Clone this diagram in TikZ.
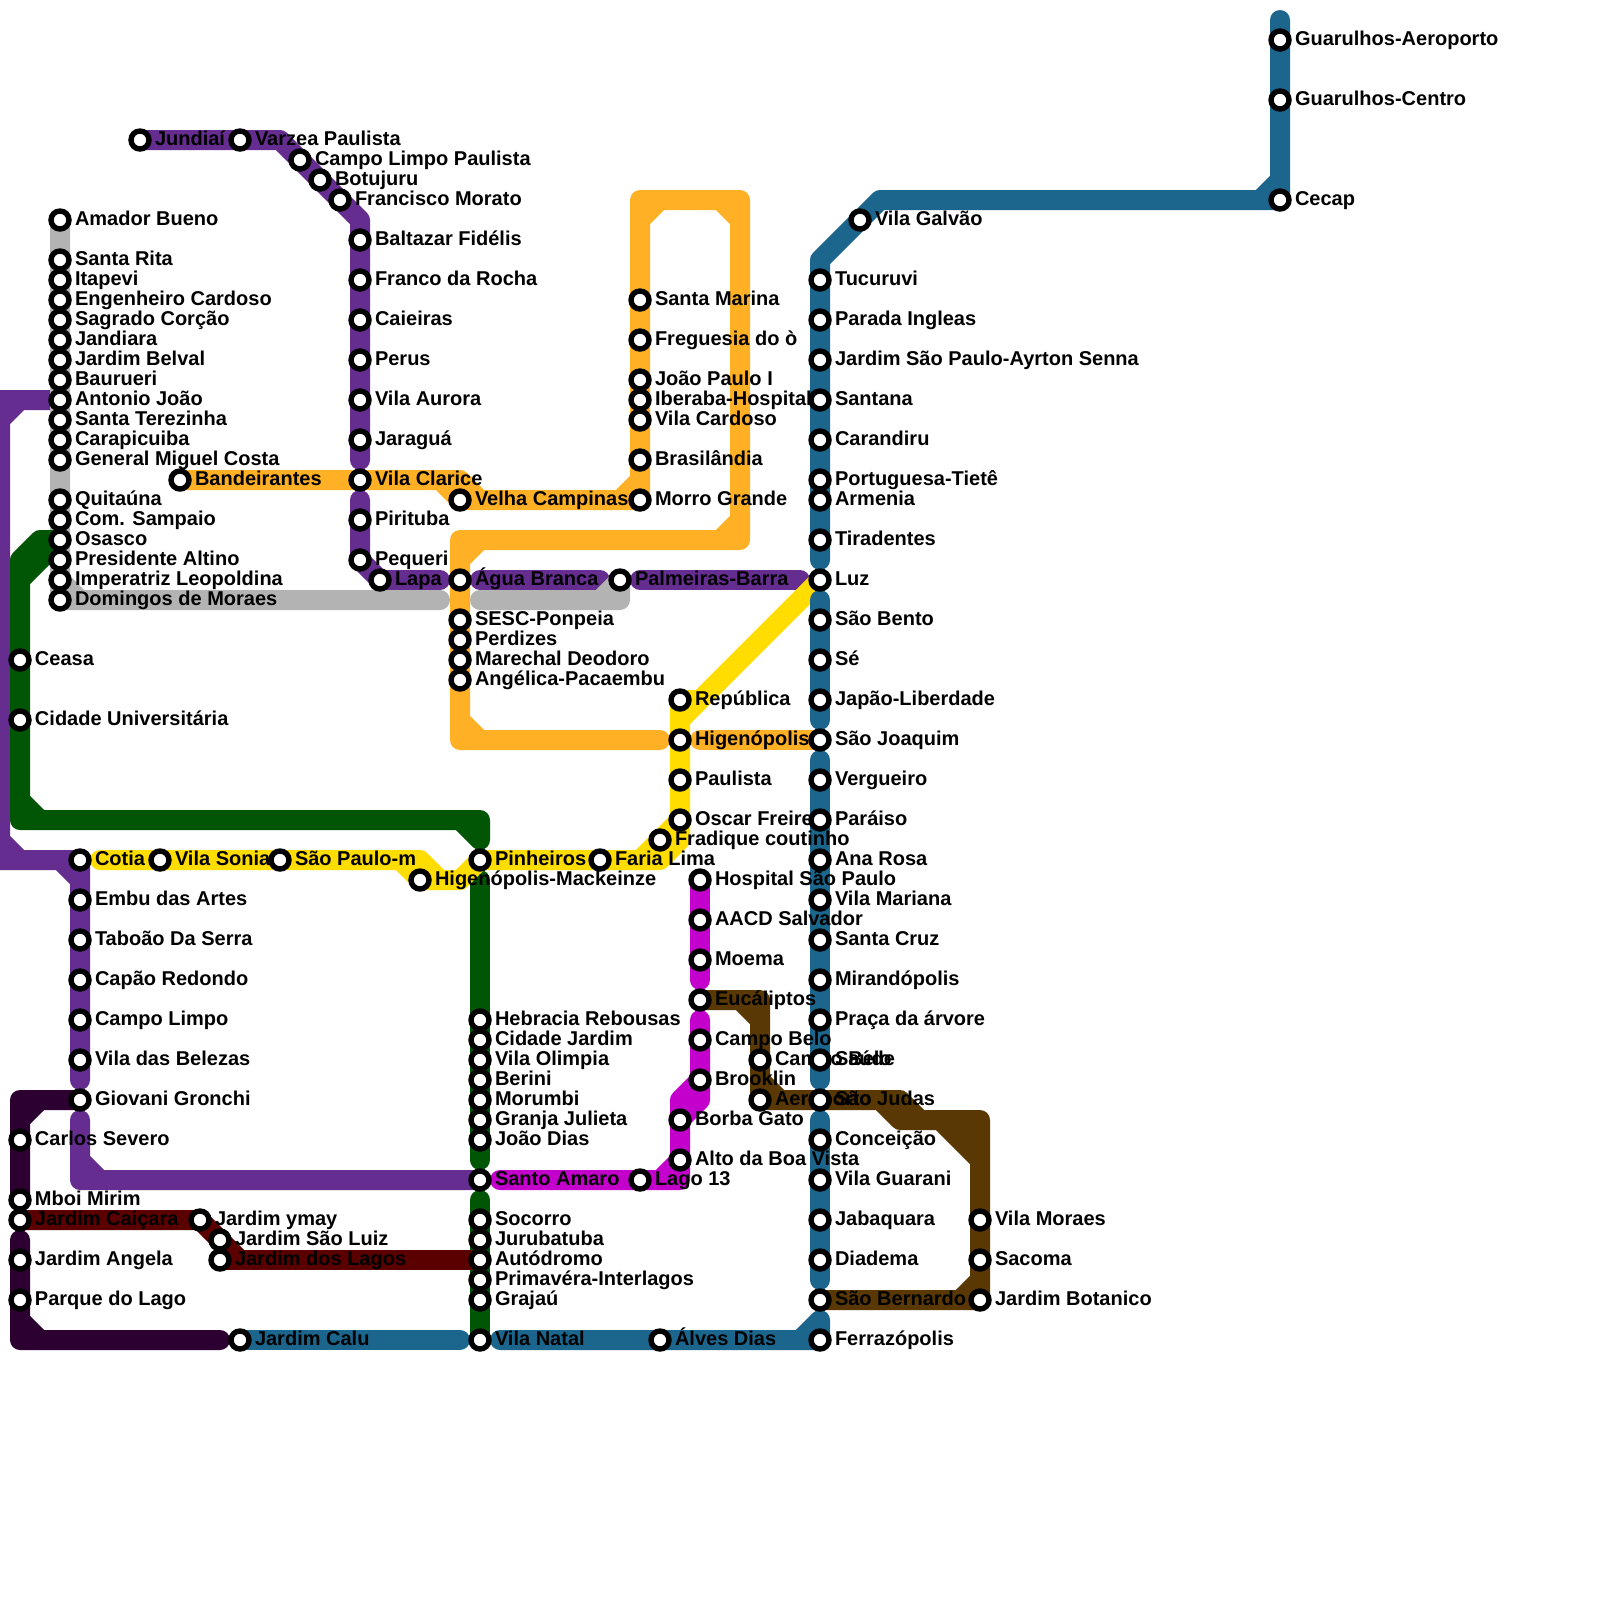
\documentclass[tikz,border=0pt]{standalone}
\usepackage{fontspec}
\setmainfont{Liberation Sans}
\usepackage{xcolor}
\definecolor{lpurple}{HTML}{662D91}
\definecolor{lgray}{HTML}{B3B3B3}
\definecolor{lorange}{HTML}{FFB025}
\definecolor{lblue}{HTML}{1C668D}
\definecolor{lgreen}{HTML}{015605}
\definecolor{lyellow}{HTML}{FFDD00}
\definecolor{lmagenta}{HTML}{C400CC}
\definecolor{lbrown}{HTML}{5A3804}
\definecolor{ldark}{HTML}{2D0032}
\definecolor{lred}{HTML}{5A0000}
\pgfdeclarelayer{lines}
\pgfdeclarelayer{labels}
\pgfsetlayers{lines,labels,main}
\tikzset{
    metro/.style={line width=0.5cm,line cap=round,line join=round},
    station/.style={circle,draw=black,fill=white,line width=0.135cm,minimum size=0.45cm,inner sep=0pt,outer sep=0pt},
    stnlabel/.style={anchor=base west,inner sep=0pt,outer sep=0pt,text=black,font=\fontsize{14.23}{14.23}\selectfont\bfseries}
}

\begin{document}
\begin{tikzpicture}[x=0.5cm,y=-0.5cm]
    \useasboundingbox (0,0) rectangle (80,80);
    % stations and their names
    \foreach \nm/\x/\y/\txt in {
        amador/3/11/Amador Bueno, srita/3/13/Santa Rita, itapevi/3/14/Itapevi,
        engenheiro/3/15/Engenheiro Cardoso, sagrado/3/16/Sagrado Corção, jandiara/3/17/Jandiara,
        belval/3/18/Jardim Belval, baurueri/3/19/Baurueri, antonio/3/20/Antonio João,
        terezinha/3/21/Santa Terezinha, carapicuiba/3/22/Carapicuiba, general/3/23/General Miguel Costa,
        quitauna/3/25/Quitaúna, sampaio/3/26/Com. Sampaio, osasco/3/27/Osasco,
        altino/3/28/Presidente Altino, imperatriz/3/29/Imperatriz Leopoldina, domingos/3/30/Domingos de Moraes,
        ceasa/1/33/Ceasa, cidadeuni/1/36/Cidade Universitária,
        jundiai/7/7/Jundiaí, varzea/12/7/Varzea Paulista, campolimpop/15/8/Campo Limpo Paulista,
        botujuru/16/9/Botujuru, morato/17/10/Francisco Morato, baltazar/18/12/Baltazar Fidélis,
        franco/18/14/Franco da Rocha, caieiras/18/16/Caieiras, perus/18/18/Perus,
        aurora/18/20/Vila Aurora, jaragua/18/22/Jaraguá, clarice/18/24/Vila Clarice,
        pirituba/18/26/Pirituba, pequeri/18/28/Pequeri, lapa/19/29/Lapa,
        agua/23/29/Água Branca, palmeiras/31/29/Palmeiras-Barra,
        bandeirantes/9/24/Bandeirantes, velha/23/25/Velha Campinas, morro/32/25/Morro Grande,
        brasilandia/32/23/Brasilândia, cardoso/32/21/Vila Cardoso, iberaba/32/20/Iberaba-Hospital,
        joaopaulo/32/19/João Paulo I, freguesia/32/17/Freguesia do ò, marina/32/15/Santa Marina,
        sesc/23/31/SESC-Ponpeia, perdizes/23/32/Perdizes, marechal/23/33/Marechal Deodoro,
        angelica/23/34/Angélica-Pacaembu,
        aeroporto/64/2/Guarulhos-Aeroporto, gcentro/64/5/Guarulhos-Centro, cecap/64/10/Cecap,
        galvao/43/11/Vila Galvão, tucuruvi/41/14/Tucuruvi, parada/41/16/Parada Ingleas,
        ayrton/41/18/Jardim São Paulo-Ayrton Senna, santana/41/20/Santana, carandiru/41/22/Carandiru,
        portuguesa/41/24/Portuguesa-Tietê, armenia/41/25/Armenia, tiradentes/41/27/Tiradentes,
        luz/41/29/Luz, saobento/41/31/São Bento, se/41/33/Sé, japao/41/35/Japão-Liberdade,
        joaquim/41/37/São Joaquim, vergueiro/41/39/Vergueiro, paraiso/41/41/Paráiso,
        anarosa/41/43/Ana Rosa, mariana/41/45/Vila Mariana, santacruz/41/47/Santa Cruz,
        mirandopolis/41/49/Mirandópolis, praca/41/51/Praça da árvore, saude/41/53/Saúde,
        judas/41/55/São Judas, conceicao/41/57/Conceição, guarani/41/59/Vila Guarani,
        jabaquara/41/61/Jabaquara, diadema/41/63/Diadema, bernardo/41/65/São Bernardo,
        ferrazopolis/41/67/Ferrazópolis, alves/33/67/Álves Dias, natal/24/67/Vila Natal,
        calu/12/67/Jardim Calu,
        republica/34/35/República, higienopolis/34/37/Higenópolis, paulista/34/39/Paulista,
        oscar/34/41/Oscar Freire, fradique/33/42/Fradique coutinho, faria/30/43/Faria Lima,
        pinheiros/24/43/Pinheiros, mackenzie/21/44/Higenópolis-Mackeinze, saopaulom/14/43/São Paulo-m,
        sonia/8/43/Vila Sonia, cotia/4/43/Cotia,
        embu/4/45/Embu das Artes, taboao/4/47/Taboão Da Serra, capao/4/49/Capão Redondo,
        campolimpo/4/51/Campo Limpo, belezas/4/53/Vila das Belezas, gronchi/4/55/Giovani Gronchi,
        hebracia/24/51/Hebracia Rebousas, cidadej/24/52/Cidade Jardim, olimpia/24/53/Vila Olimpia,
        berini/24/54/Berini, morumbi/24/55/Morumbi, granja/24/56/Granja Julieta,
        joaodias/24/57/João Dias, amaro/24/59/Santo Amaro, socorro/24/61/Socorro,
        jurubatuba/24/62/Jurubatuba, autodromo/24/63/Autódromo, primavera/24/64/Primavéra-Interlagos,
        grajau/24/65/Grajaú,
        hospital/35/44/Hospital São Paulo, aacd/35/46/AACD Salvador, moema/35/48/Moema,
        eucaliptos/35/50/Eucáliptos, campobelo/35/52/Campo Belo, brooklin/35/54/Brooklin,
        borba/34/56/Borba Gato, boavista/34/58/Alto da Boa Vista, lago/32/59/Lago 13,
        campobelob/38/53/Campo Belo, aero/38/55/Aeroporto,
        moraes/49/61/Vila Moraes, sacoma/49/63/Sacoma, botanico/49/65/Jardim Botanico,
        severo/1/57/Carlos Severo, mboi/1/60/Mboi Mirim, caicara/1/61/Jardim Caiçara,
        angela/1/63/Jardim Angela, parque/1/65/Parque do Lago,
        ymay/10/61/Jardim ymay, luiz/11/62/Jardim São Luiz, lagos/11/63/Jardim dos Lagos}
    {
        \node[station] (\nm) at (\x,\y) {};
        \begin{pgfonlayer}{labels}
            \node[stnlabel] (\nm txt) at (\x+0.75,\y+0.25) {\txt};
        \end{pgfonlayer}
    }
    \begin{pgfonlayer}{lines}
        % purple
        \draw[metro,lpurple] (antonio.center) -- (0,20) -- (0,43) -- (cotia.center) -- (4,54)
            (0,21) -- (1,20) (0,42) -- (1,43) (3,43) -- (4,44);
        \draw[metro,lpurple] (4,56) -- (4,59) -- (amaro.center) (4,58) -- (5,59);
        \draw[metro,lpurple] (jundiai.center) -- (14,7) -- (18,11) -- (18,23);
        \draw[metro,lpurple] (18,25) -- (pequeri.center) -- (lapa.center) -- (22,29);
        \draw[metro,lpurple] (24,29) -- (30,29);
        \draw[metro,lpurple] (32,29) -- (40,29);
        % dark line
        \draw[metro,ldark] (gronchi.center) -- (1,55) -- (mboi.center) (1,56) -- (2,55);
        \draw[metro,ldark] (1,62) -- (1,67) -- (11,67) (1,66) -- (2,67);
        % gray
        \draw[metro,lgray] (amador.center) -- (domingos.center) -- (22,30) (3,29) -- (4,30);
        \draw[metro,lgray] (24,30) -- (31,30) -- (palmeiras.center) (30,30) -- (31,29);
        % orange
        \draw[metro,lorange] (bandeirantes.center) -- (23,24) -- (24,25) -- (morro.center) -- (32,10) -- (37,10) -- (37,27) -- (23,27) -- (23,37) -- (33,37)
            (22,24) -- (23,25) -- (24,25) (31,25) -- (32,24) (32,11) -- (33,10) (36,10) -- (37,11)
            (36,27) -- (37,26) (23,28) -- (24,27) (23,36) -- (24,37);
        \draw[metro,lorange] (35,37) -- (joaquim.center);
        % green
        \draw[metro,lgreen] (osasco.center) -- (2,27) -- (1,28) -- (1,41) -- (24,41) -- (24,42)
            (osasco.center) -- (1,29) (1,40) -- (2,41) (23,41) -- (24,42);
        \draw[metro,lgreen] (24,44) -- (24,58);
        \draw[metro,lgreen] (24,60) -- (natal.center);
        % yellow
        \draw[metro,lyellow] (5,43) -- (21,43) -- (22,44) -- (23,44) -- (pinheiros.center) -- (33,43) -- (34,42) -- (34,35) -- (35,35) -- (luz.center)
            (20,43) -- (mackenzie.center) -- (22,44) (32,43) -- (fradique.center) -- (oscar.center) (34,36) -- (35,35);
        % magenta
        \draw[metro,lmagenta] (hospital.center) -- (35,49);
        \draw[metro,lmagenta] (35,51) -- (35,55) -- (borba.center) -- (34,59) -- (25,59)
            (brooklin.center) -- (34,55) -- (borba.center) (33,59) -- (boavista.center);
        % brown
        \draw[metro,lbrown] (eucaliptos.center) -- (38,50) -- (aero.center) -- (45,55) -- (46,56) -- (49,56) -- (botanico.center) -- (bernardo.center)
            (37,50) -- (38,51) (38,54) -- (39,55) (44,55) -- (45,56) -- (46,56) (47,56) -- (49,58) (48,56) -- (49,57) (48,65) -- (49,64);
        % dark red
        \draw[metro,lred] (caicara.center) -- (ymay.center) -- (12,63);
        \draw[metro,lred] (lagos.center) -- (autodromo.center);
        % blue
        \draw[metro,lblue] (64,1) -- (cecap.center) -- (44,10) -- (41,13) -- (41,28)
            (63,10) -- (64,9);
        \draw[metro,lblue] (41,30) -- (41,36);
        \draw[metro,lblue] (41,38) -- (41,54);
        \draw[metro,lblue] (41,56) -- (41,64);
        \draw[metro,lblue] (41,66) -- (ferrazopolis.center) -- (25,67) (40,67) -- (41,66);
        \draw[metro,lblue] (calu.center) -- (23,67);
    \end{pgfonlayer}
\end{tikzpicture}
\end{document}
